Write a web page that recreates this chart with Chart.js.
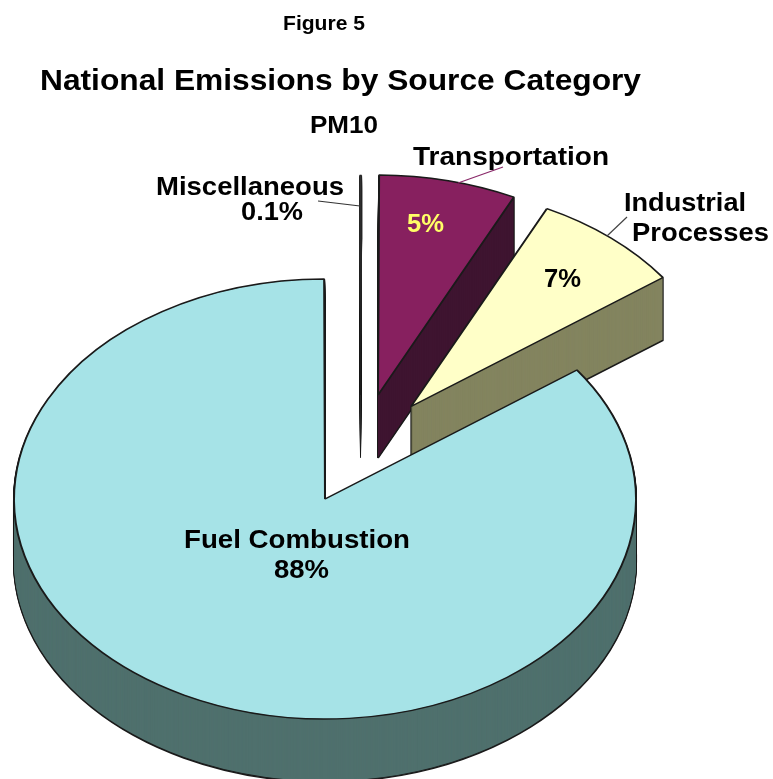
<!DOCTYPE html>
<html>
<head>
<meta charset="utf-8">
<title>National Emissions by Source Category</title>
<script src="https://cdn.jsdelivr.net/npm/chart.js@4"></script>
<style>
html, body { margin: 0; padding: 0; background: #fff; overflow: hidden; }
#wrap { width: 773px; height: 779px; }
</style>
</head>
<body>
<div id="wrap"><canvas id="pie" width="773" height="779"></canvas></div>
<script>
// data
const categories = ['Fuel Combustion', 'Miscellaneous', 'Transportation', 'Industrial Processes'];
// wedge sizes as actually drawn in the reference (they differ from the printed percents)
const drawnShares = [84.92, 0.1, 7.14, 7.83];
const printedLabels = ['88%', '0.1%', '5%', '7%'];

// look of the slices, same order as categories
const topColors = ['#a6e3e7', '#333333', '#87205f', '#ffffc8'];
const sideColors = ['#4f706d', '#333333', '#3e1430', '#83845f'];
const borderWidths = [2, 0.7, 2, 2];
const apexes = [[325, 499], [360.5, 395], [378, 395], [411, 406.5]]; // exploded position of each slice tip
const drawOrder = [1, 2, 3, 0]; // back to front
const flatten = 220 / 311; // circle -> ellipse
const depth = 63;
const outline = '#1a1a1a';

// text: string, left x, right x, baseline y, font px, colour
const texts = [
    ['Figure 5', 283, 365, 30, 20, '#000'],
    ['National Emissions by Source Category', 40, 641, 90, 30, '#000'],
    ['PM10', 310, 378, 133, 23, '#000'],
    [categories[2], 413, 609, 165, 26, '#000'],
    [categories[1], 156, 344, 195, 26, '#000'],
    [printedLabels[1], 241, 303, 220, 26, '#000'],
    ['Industrial', 624, 746, 211, 26, '#000'],
    ['Processes', 632, 769, 241, 26, '#000'],
    [printedLabels[2], 407, 444, 232, 26, '#ffff66'],
    [printedLabels[3], 544, 581, 287, 26, '#000'],
    [categories[0], 184, 410, 548, 26, '#000'],
    [printedLabels[0], 274, 329, 578, 26, '#000']
];
const leaders = [
    [458, 183, 503, 167, '#8a2a6a'],
    [318, 201, 360, 206, '#333333'],
    [607, 236, 627, 217, '#444444']
];

function drawSlice(ctx, arc, apex, shift, changes) { // one copy of the arc, flattened and moved
    const saved = arc.options;
    arc.options = Object.assign({}, saved, changes);
    ctx.save();
    ctx.translate(apex[0], apex[1] + shift);
    ctx.scale(1, flatten);
    ctx.translate(-arc.x, -arc.y);
    arc.draw(ctx);
    ctx.restore();
    arc.options = saved;
}

const pie3d = {
    id: 'pie3d',
    beforeDatasetsDraw(chart) { // chart.js draws flat only, so we stack the arcs ourselves
        const ctx = chart.ctx;
        const arcs = chart.getDatasetMeta(0).data;
        drawOrder.forEach(function(i) {
            for (let d = depth; d >= 1; d--) { // dark copies with border give the silhouette
                drawSlice(ctx, arcs[i], apexes[i], d, {backgroundColor: sideColors[i], borderColor: outline, borderWidth: borderWidths[i]});
            }
            for (let d = depth - 1; d >= 1; d--) { // then wash the inner border lines away
                drawSlice(ctx, arcs[i], apexes[i], d, {backgroundColor: sideColors[i], borderWidth: 0});
            }
            drawSlice(ctx, arcs[i], apexes[i], 0, {backgroundColor: topColors[i], borderColor: outline, borderWidth: borderWidths[i]});
        });
        return false;
    },
    afterDraw(chart) {
        const ctx = chart.ctx;
        ctx.save();
        leaders.forEach(function(l) {
            ctx.strokeStyle = l[4];
            ctx.lineWidth = 1.2;
            ctx.beginPath();
            ctx.moveTo(l[0], l[1]);
            ctx.lineTo(l[2], l[3]);
            ctx.stroke();
        });
        ctx.textAlign = 'left';
        ctx.textBaseline = 'alphabetic';
        texts.forEach(function(t) {
            ctx.font = `bold ${t[4]}px "Liberation Sans", Arial, sans-serif`;
            const stretch = (t[2] - t[1]) / ctx.measureText(t[0]).width; // the reference font is wider than ours
            ctx.save();
            ctx.translate(t[1], t[3]);
            ctx.scale(stretch, 1);
            ctx.fillStyle = t[5];
            ctx.fillText(t[0], 0, 0);
            ctx.restore();
        });
        ctx.restore();
    }
};

new Chart(document.getElementById('pie').getContext('2d'), {
    type: 'pie',
    data: {
        labels: categories,
        datasets: [{
            data: drawnShares,
            backgroundColor: topColors,
            borderWidth: 0
        }]
    },
    options: {
        responsive: false,
        animation: false,
        radius: 311,
        rotation: 54.1,
        events: [],
        plugins: {
            legend: {display: false},
            title: {display: false},
            tooltip: {enabled: false}
        }
    },
    plugins: [pie3d]
});
</script>
</body>
</html>
